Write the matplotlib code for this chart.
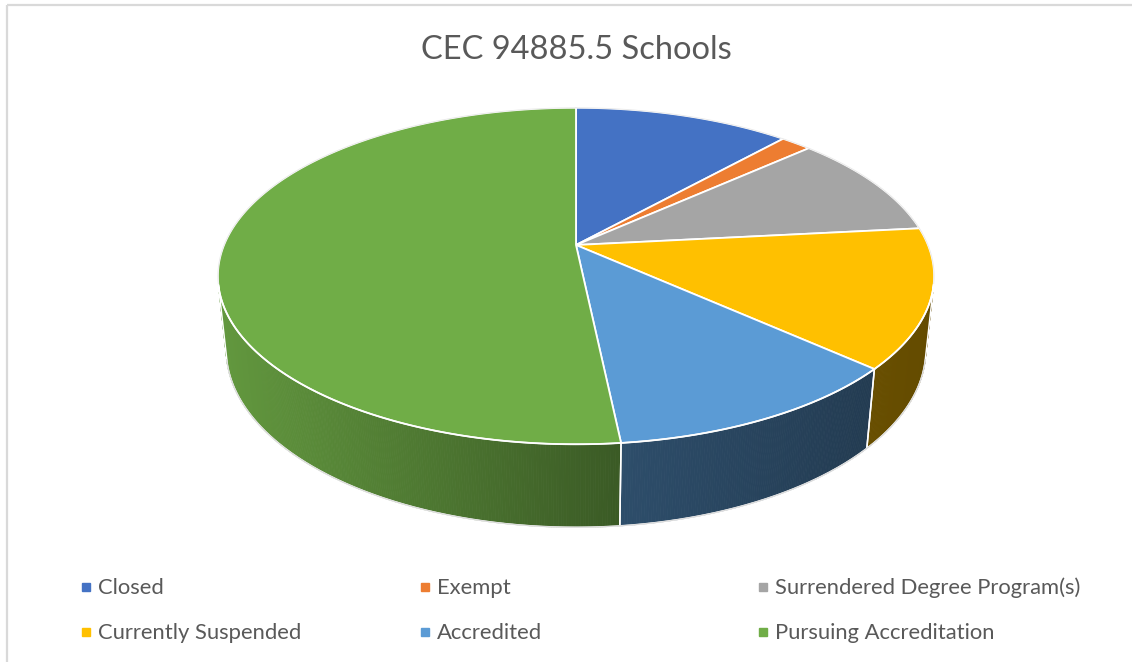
import numpy as np
import matplotlib
matplotlib.use('Agg')
import matplotlib.pyplot as plt
from matplotlib.patches import Polygon, Rectangle
from matplotlib.collections import PolyCollection
from matplotlib.colors import to_rgb

# ---------------- data ----------------
categories = ['Closed', 'Exempt', 'Surrendered Degree Program(s)',
              'Currently Suspended', 'Accredited', 'Pursuing Accreditation']
counts = [7, 1, 6, 8, 7, 31]
colors = ['#4472C4', '#ED7D31', '#A5A5A5', '#FFC000', '#5B9BD5', '#70AD47']
title = 'CEC 94885.5 Schools'

# side-wall gradient (left factor, right factor) per slice -- style only
wall_shade = [(0.5, 0.4), (0.5, 0.4), (0.5, 0.4), (0.41, 0.39), (0.50, 0.38), (0.88, 0.52)]

FONT = ['Lato', 'DejaVu Sans']
plt.rcParams['font.family'] = FONT

W, H = 1132, 662
fig = plt.figure(figsize=(W / 100, H / 100), dpi=100)
ax = fig.add_axes([0, 0, 1, 1])
ax.set_xlim(0, W)
ax.set_ylim(H, 0)
ax.axis('off')

# ---------------- 3D projection (camera) ----------------
alpha = np.radians(27.5)
D = 4.81
F = 1693.0
CX, CY = 576.0, 245.0
HGT = 0.2375


def proj(u, v, z):
    yc = z * np.cos(alpha) - v * np.sin(alpha)
    dep = v * np.cos(alpha) + z * np.sin(alpha)
    s = F / (D - dep)
    return CX + s * u, CY - s * yc


def circ(theta, z):
    return proj(np.sin(theta), -np.cos(theta), z)


total = float(sum(counts))
bounds = np.concatenate([[0.0], np.cumsum(counts) / total * 2 * np.pi])

# visible range of the outer wall
tv = np.arccos(-1.0 / (D * np.cos(alpha)))
vis_lo, vis_hi = tv, 2 * np.pi - tv

# ---------------- walls ----------------
for i in range(len(counts)):
    t0, t1 = bounds[i], bounds[i + 1]
    a, b = max(t0, vis_lo), min(t1, vis_hi)
    if b <= a:
        continue
    n = max(2, int(np.degrees(b - a) * 3))
    th = np.linspace(a, b, n + 1)
    xt, yt = circ(th, 0.0)
    xb, yb = circ(th, -HGT)
    xmin, xmax = min(xt.min(), xb.min()), max(xt.max(), xb.max())
    base = np.array(to_rgb(colors[i]))
    fl, fr = wall_shade[i]
    polys, cols = [], []
    for k in range(n):
        quad = [(xt[k], yt[k]), (xt[k + 1], yt[k + 1]), (xb[k + 1], yb[k + 1]), (xb[k], yb[k])]
        xm = 0.25 * (xt[k] + xt[k + 1] + xb[k] + xb[k + 1])
        f = fl + (fr - fl) * (xm - xmin) / (xmax - xmin)
        c = np.clip(base * f, 0, 1)
        polys.append(quad)
        cols.append(c)
    pc = PolyCollection(polys, facecolors=cols, edgecolors=cols, linewidths=0.6, antialiased=True)
    ax.add_collection(pc)
    xs = np.concatenate([xt, xb[::-1], xt[:1]])
    ys = np.concatenate([yt, yb[::-1], yt[:1]])
    ax.plot(xs, ys, color='white', lw=1.1, solid_joinstyle='round')

# faint outer outline of bottom
thb = np.linspace(vis_lo, vis_hi, 400)
xb, yb = circ(thb, -HGT)
ax.plot(xb, yb, color='#d9d9d9', lw=0.8)

# ---------------- top faces ----------------
cx0, cy0 = proj(0.0, 0.0, 0.0)
for i in range(len(counts)):
    t0, t1 = bounds[i], bounds[i + 1]
    n = max(3, int(np.degrees(t1 - t0) * 2))
    th = np.linspace(t0, t1, n + 1)
    xt, yt = circ(th, 0.0)
    pts = np.column_stack([np.concatenate([[cx0], xt]), np.concatenate([[cy0], yt])])
    ax.add_patch(Polygon(pts, closed=True, facecolor=colors[i], edgecolor='white',
                         lw=1.3, joinstyle='round'))

th = np.linspace(0, 2 * np.pi, 720)
xo, yo = circ(th, 0.0)
ax.plot(xo, yo, color='#e8e8e8', lw=0.6, zorder=1.5)

# ---------------- title ----------------
ax.text(576, 59, title, ha='center', va='baseline', fontsize=23.5, color='#595959')

# ---------------- legend ----------------
col_x = [86, 425, 763]
row_y = [587, 632]
for i, (lab, c) in enumerate(zip(categories, colors)):
    r, cidx = divmod(i, 3)
    ax.plot([col_x[cidx]], [row_y[r]], marker='s', ms=5.5, color=c, mec=c, linestyle='none')
    ax.text(col_x[cidx] + 12, row_y[r] + 7, lab, ha='left', va='baseline',
            fontsize=15.8, color='#595959')

# ---------------- border ----------------
ax.add_patch(Rectangle((7, 5), W + 20, H + 20, fill=False, edgecolor='#d9d9d9', lw=1.6))

fig.savefig('out.png', dpi=100)
